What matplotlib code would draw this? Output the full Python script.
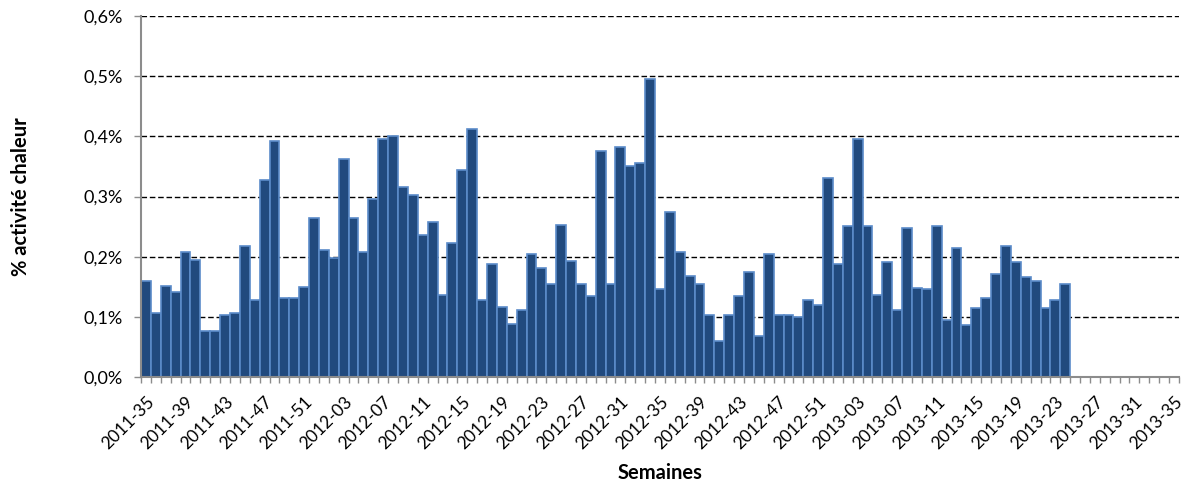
import numpy as np
import matplotlib
matplotlib.use("Agg")
import matplotlib.pyplot as plt
import matplotlib.transforms as mtransforms
from matplotlib.ticker import FuncFormatter

plt.rcParams['font.family'] = ['Lato', 'DejaVu Sans']

# weeks 2011-35 .. 2013-35 (ISO weeks, 2011 and 2012 have 52 weeks)
weeks = ([f"2011-{w:02d}" for w in range(35, 53)] +
         [f"2012-{w:02d}" for w in range(1, 53)] +
         [f"2013-{w:02d}" for w in range(1, 36)])

# % activité chaleur, from 2011-35 to 2013-24
values = [
    0.159, 0.106, 0.151, 0.142, 0.208, 0.194, 0.077, 0.077, 0.103, 0.106,
    0.217, 0.128, 0.327, 0.393, 0.131, 0.131, 0.149, 0.265, 0.211, 0.197,
    0.362, 0.265, 0.208, 0.296, 0.396, 0.401, 0.316, 0.302, 0.236, 0.257,
    0.137, 0.222, 0.344, 0.413, 0.128, 0.188, 0.117, 0.088, 0.111, 0.205,
    0.182, 0.154, 0.253, 0.193, 0.154, 0.134, 0.376, 0.154, 0.382, 0.350,
    0.356, 0.496, 0.146, 0.274, 0.208, 0.168, 0.154, 0.103, 0.060, 0.103,
    0.134, 0.174, 0.068, 0.205, 0.103, 0.103, 0.100, 0.128, 0.120, 0.330,
    0.188, 0.251, 0.396, 0.251, 0.137, 0.191, 0.111, 0.248, 0.148, 0.146,
    0.251, 0.094, 0.214, 0.086, 0.114, 0.131, 0.171, 0.217, 0.191, 0.166,
    0.159, 0.114, 0.128, 0.154,
]

fig = plt.figure(figsize=(11.86, 4.82), dpi=100)
ax = fig.add_axes([0.1189, 0.2178, 0.8751, 0.749])

x = np.arange(len(values))
ax.bar(x, values, width=1.0, color='#214A7E', edgecolor='#5B8BC9',
       linewidth=1.2, zorder=3)

ax.set_xlim(-0.5, len(weeks) - 0.5)
ax.set_ylim(0, 0.6)
ax.set_yticks(np.arange(0, 0.61, 0.1))
ax.yaxis.set_major_formatter(FuncFormatter(lambda v, p: f"{v:.1f}%".replace('.', ',')))
ax.yaxis.grid(True, color='black', linestyle=(0, (4, 2)), linewidth=1.0, zorder=1)

label_pos = np.arange(0, len(weeks), 4)
ax.set_xticks(label_pos)
ax.set_xticklabels([weeks[i] for i in label_pos], rotation=45, ha='right',
                   va='top', rotation_mode='anchor', fontsize=12.5)
# shift rotated labels so their end sits under the category
offset = mtransforms.ScaledTranslation(9 / 100, -2 / 100, fig.dpi_scale_trans)
for lab in ax.get_xticklabels():
    lab.set_transform(lab.get_transform() + offset)
ax.set_xticks(np.arange(-0.5, len(weeks), 1), minor=True)
ax.tick_params(axis='x', which='major', length=0, pad=12)
ax.tick_params(axis='x', which='minor', length=4, color='#8C8C8C', width=1)
ax.tick_params(axis='y', length=5, color='#8C8C8C', width=1, labelsize=13, pad=8)

for side in ['top', 'right']:
    ax.spines[side].set_visible(False)
for side in ['left', 'bottom']:
    ax.spines[side].set_color('#8C8C8C')
    ax.spines[side].set_linewidth(1.5)
    ax.spines[side].set_zorder(4)

ax.set_xlabel("Semaines", fontsize=14.5, fontweight='bold', labelpad=8)
ax.set_ylabel("% activité chaleur", fontsize=14.5, fontweight='bold', labelpad=38)

fig.savefig("out.png", dpi=100)
